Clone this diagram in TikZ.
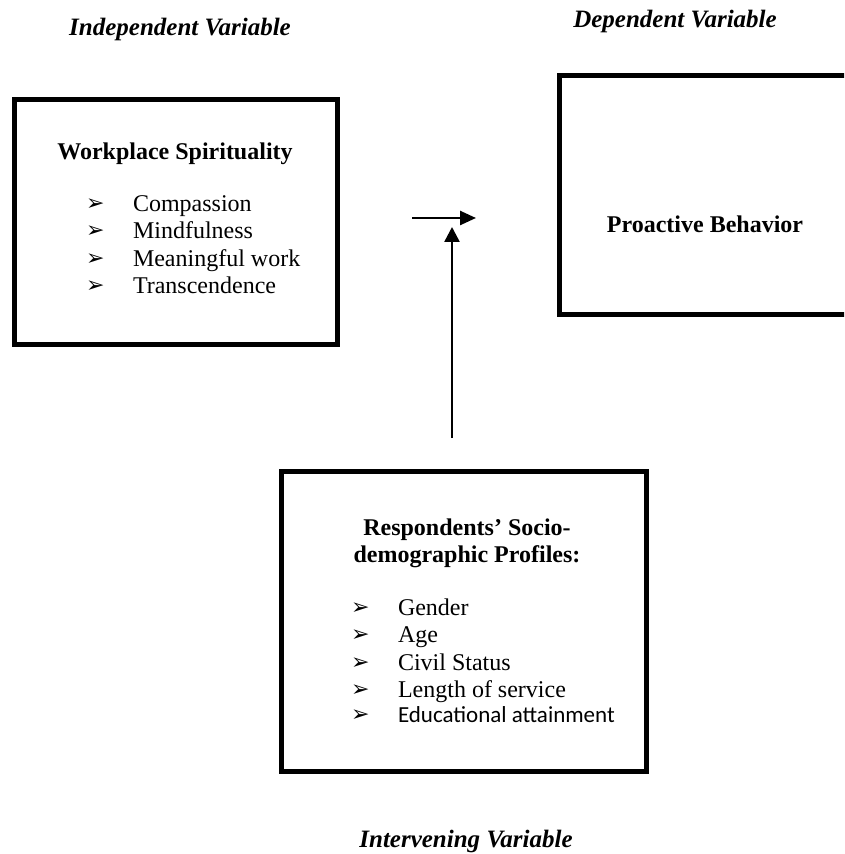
\documentclass[tikz,border=0pt]{standalone}
\usepackage{fontspec}
\setmainfont{Liberation Serif}
\newfontfamily\dvsans{DejaVu Sans}
\newfontfamily\calib{Carlito}
\usetikzlibrary{arrows.meta}
\begin{document}
\begin{tikzpicture}[x=0.5pt,y=-0.5pt,
  box/.style={draw, line width=2.5pt, inner sep=0pt, outer sep=0pt},
  txt/.style={inner sep=0pt, outer sep=0pt, font=\fontsize{12}{14}\selectfont},
  head/.style={inner sep=0pt, outer sep=0pt, font=\fontsize{12}{14}\selectfont\bfseries},
  varlabel/.style={inner sep=0pt, outer sep=0pt, font=\fontsize{12.5}{14}\selectfont\bfseries\itshape},
  bul/.style={inner sep=0pt, outer sep=0pt, font=\dvsans\fontsize{11}{12}\selectfont},
  conn/.style={line width=1.25pt}]
\clip (0,0) rectangle (844,854);
\fill[white] (0,0) rectangle (844,854);

% variable labels
\node[varlabel, anchor=base] (lind) at (180,36) {Independent Variable};
\node[varlabel, anchor=base] (ldep) at (675,28) {Dependent Variable};
\node[varlabel, anchor=base] (lint) at (466,847) {Intervening Variable};

% boxes
\node[box, minimum width=161.75pt, minimum height=122.75pt] (ws) at (176,222) {};
\node[box, minimum width=155.5pt, minimum height=119.5pt] (pb) at (714.5,195.5) {};
\node[box, minimum width=182.5pt, minimum height=149.75pt] (rp) at (463.5,621.25) {};

% box 1 content
\node[head, anchor=base] (wsh) at (175,160) {Workplace Spirituality};
\node[bul, anchor=base west] (b1) at (86,211) {➢};
\node[txt, anchor=base west] (t1) at (133,212) {Compassion};
\node[bul, anchor=base west] (b2) at (86,238) {➢};
\node[txt, anchor=base west] (t2) at (133,239) {Mindfulness};
\node[bul, anchor=base west] (b3) at (86,265.5) {➢};
\node[txt, anchor=base west] (t3) at (133,266.5) {Meaningful work};
\node[bul, anchor=base west] (b4) at (86,293) {➢};
\node[txt, anchor=base west] (t4) at (133,294) {Transcendence};

% box 2 content
\node[head, anchor=base] (pbh) at (705,233) {Proactive Behavior};

% box 3 content
\node[head, anchor=base] (rph1) at (467,535) {Respondents’ Socio-};
\node[head, anchor=base] (rph2) at (467,562) {demographic Profiles:};
\node[bul, anchor=base west] (c1) at (351,614) {➢};
\node[txt, anchor=base west] (s1) at (398,615) {Gender};
\node[bul, anchor=base west] (c2) at (351,641.5) {➢};
\node[txt, anchor=base west] (s2) at (398,642.5) {Age};
\node[bul, anchor=base west] (c3) at (351,669) {➢};
\node[txt, anchor=base west] (s3) at (398,670) {Civil Status};
\node[bul, anchor=base west] (c4) at (351,696.5) {➢};
\node[txt, anchor=base west] (s4) at (398,697.5) {Length of service};
\node[bul, anchor=base west] (c5) at (351,721) {➢};
\node[txt, anchor=base west, font=\calib\fontsize{11.5}{14}\selectfont] (s5) at (398,722) {Educational attainment};

% connectors
\coordinate (h0) at (412,218);
\coordinate (h1) at (476,218);
\coordinate (v0) at (452,438);
\coordinate (v1) at (452,227);
\draw[conn, -{Triangle[length=8pt,width=7pt]}] (h0) -- (h1);
\draw[conn, -{Triangle[length=7.5pt,width=7.5pt]}] (v0) -- (v1);
\end{tikzpicture}
\end{document}
